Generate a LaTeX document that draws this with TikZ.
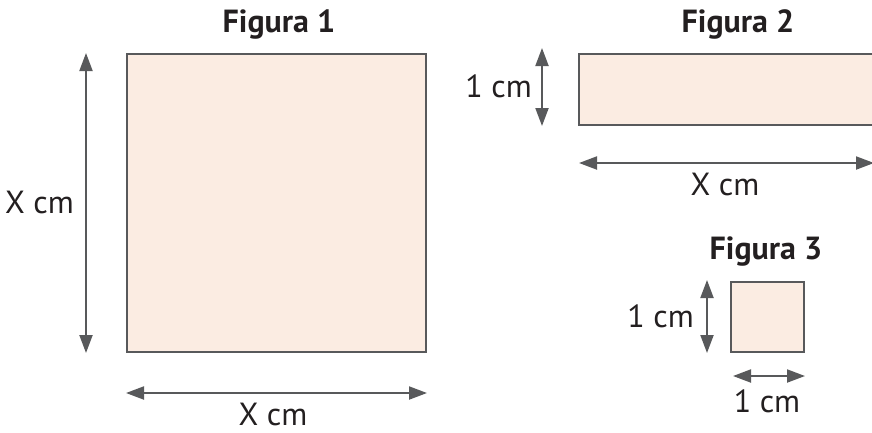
\documentclass[tikz,border=0pt]{standalone}
\usepackage{fontspec}
\setmainfont{PT Sans}
\usetikzlibrary{arrows.meta}
\definecolor{fillc}{HTML}{FBECE2}
\definecolor{linec}{HTML}{58595B}
\definecolor{txtc}{HTML}{231F20}
\tikzset{
  figbox/.style={draw=linec, fill=fillc, line width=2.6pt},
  dim/.style={draw=linec, line width=2pt, {Triangle[length=18pt,width=13pt]}-{Triangle[length=18pt,width=13pt]}},
  lbl/.style={text=txtc, font=\fontsize{32}{36}\selectfont, anchor=base, inner sep=0pt},
  lblr/.style={lbl, anchor=base east},
  ttl/.style={text=txtc, font=\fontsize{32}{36}\selectfont\bfseries, anchor=base, inner sep=0pt},
}
\begin{document}
\begin{tikzpicture}[x=1pt,y=-1pt]
\useasboundingbox (0,0) rectangle (872,432);
\clip (0,0) rectangle (872,432);
% Figura 1
\node[ttl] (t1) at (279,32) {Figura 1};
\draw[figbox] (127,54) rectangle (426,352);
\coordinate (v1a) at (86,53);
\coordinate (v1b) at (86,353);
\draw[dim] (v1a) -- (v1b);
\node[lblr] (l1a) at (74,213) {X cm};
\coordinate (h1a) at (126,393);
\coordinate (h1b) at (427,393);
\draw[dim] (h1a) -- (h1b);
\node[lbl] (l1b) at (273,425) {X cm};
% Figura 2
\node[ttl] (t2) at (738,32) {Figura 2};
\draw[figbox] (579,54) rectangle (890,125);
\coordinate (v2a) at (542,48);
\coordinate (v2b) at (542,126);
\draw[dim] (v2a) -- (v2b);
\node[lblr] (l2a) at (532,97) {1 cm};
\coordinate (h2a) at (579,163);
\coordinate (h2b) at (874,163);
\draw[dim] (h2a) -- (h2b);
\node[lbl] (l2b) at (725,195) {X cm};
% Figura 3
\node[ttl] (t3) at (766,259) {Figura 3};
\draw[figbox] (731,282) rectangle (804,352);
\coordinate (v3a) at (707,280);
\coordinate (v3b) at (707,353);
\draw[dim] (v3a) -- (v3b);
\node[lblr] (l3a) at (694,327) {1 cm};
\coordinate (h3a) at (733,376);
\coordinate (h3b) at (805,376);
\draw[dim] (h3a) -- (h3b);
\node[lbl] (l3b) at (767,412) {1 cm};
\end{tikzpicture}
\end{document}
